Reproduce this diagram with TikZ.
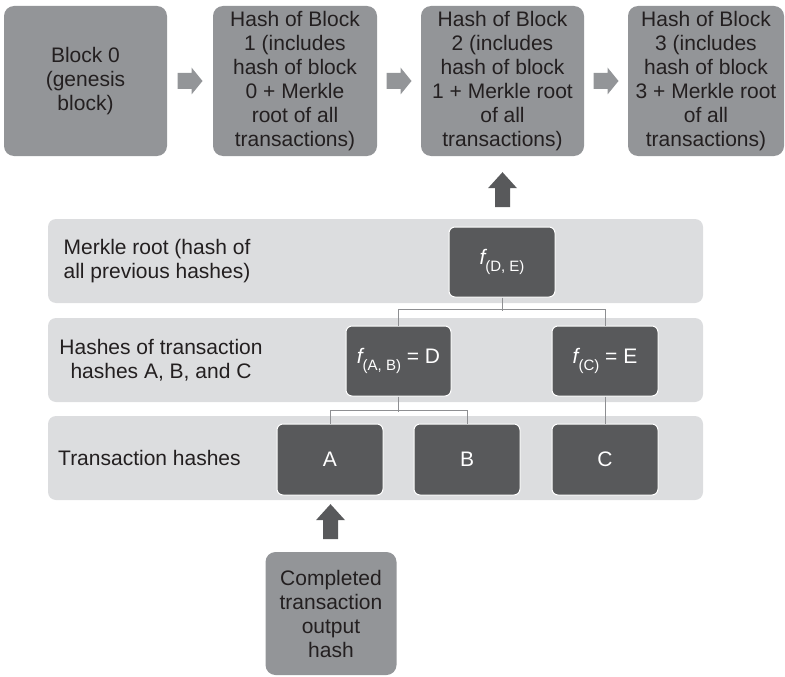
\documentclass[tikz,border=0pt]{standalone}
\usepackage{fontspec}
\setmainfont{Liberation Sans}
\usetikzlibrary{calc}
\definecolor{midgray}{HTML}{939598}
\definecolor{darkgray}{HTML}{58595B}
\definecolor{bandgray}{HTML}{DCDDDF}
\definecolor{txt}{HTML}{231F20}
\definecolor{linegray}{HTML}{8E8F92}
\newcommand{\subtxt}[1]{\raisebox{-7.5pt}{\fontsize{15}{15}\selectfont #1}}
\begin{document}
\begin{tikzpicture}[x=1pt,y=-1pt,
  mainfont/.style={font=\fontsize{21}{24}\selectfont},
  topblock/.style={mainfont, fill=midgray, rounded corners=10pt, minimum height=150pt, align=center, text=txt, inner sep=0pt},
  band/.style={fill=bandgray, rounded corners=8pt, minimum width=655pt, minimum height=84pt, inner sep=0pt},
  darkbox/.style={mainfont, fill=darkgray, draw=white, line width=1pt, rounded corners=6pt, minimum width=105pt, minimum height=70pt, text=white, inner sep=0pt},
  rowlabel/.style={mainfont, align=center, text=txt, inner sep=0pt},
  conn/.style={draw=linegray, line width=0.9pt},
  rarr/.pic={\fill[midgray] (-12.5,-8) -- (1.5,-8) -- (1.5,-13.5) -- (12.5,0) -- (1.5,13.5) -- (1.5,8) -- (-12.5,8) -- cycle;},
  uarr/.pic={\fill[darkgray] (-7.5,17.5) -- (-7.5,-1.5) -- (-14.5,-1.5) -- (0,-17.5) -- (14.5,-1.5) -- (7.5,-1.5) -- (7.5,17.5) -- cycle;}
]
\useasboundingbox (0,0) rectangle (785,677);

% top blocks
\node[topblock, minimum width=163pt] (b0) at (85.5,81) {Block 0\\(genesis\\block)};
\node[topblock, minimum width=164pt] (b1) at (295,81) {Hash of Block\\1 (includes\\hash of block\\0 + Merkle\\root of all\\transactions)};
\node[topblock, minimum width=163pt] (b2) at (502.5,81) {Hash of Block\\2 (includes\\hash of block\\1 + Merkle root\\of all\\transactions)};
\node[topblock, minimum width=156pt] (b3) at (706,81) {Hash of Block\\3 (includes\\hash of block\\3 + Merkle root\\of all\\transactions)};

\path ($(b0.east)!0.5!(b1.west)$) pic {rarr};
\path ($(b1.east)!0.5!(b2.west)$) pic {rarr};
\path ($(b2.east)!0.5!(b3.west)$) pic {rarr};

% bands
\node[band] (rootband) at (375.5,261) {};
\node[band] (hashband) at (375.5,360) {};
\node[band] (txband) at (375.5,458) {};

\node[rowlabel] (rootlbl) at (157,261) {Merkle root (hash of\\all previous hashes)};
\node[rowlabel] (hashlbl) at (161,360) {Hashes of transaction\\hashes A, B, and C};
\node[rowlabel, anchor=west] (txlbl) at (58,458) {Transaction hashes};

% dark boxes
\node[darkbox, minimum width=106pt] (DE) at (502,262) {{\itshape f}\subtxt{(D, E)}};
\node[darkbox] (D) at (398.5,361) {{\itshape f}\subtxt{(A, B)} = D};
\node[darkbox, minimum width=106pt] (E) at (605,361) {{\itshape f}\subtxt{(C)} = E};
\node[darkbox, minimum width=106pt, minimum height=71pt] (A) at (330,459.5) {A};
\node[darkbox, minimum width=106pt, minimum height=71pt] (B) at (467,459.5) {B};
\node[darkbox, minimum width=106pt, minimum height=71pt] (C) at (605,459.5) {C};

\node[topblock, minimum width=131pt, minimum height=123pt] (comp) at (331,613.5) {Completed\\transaction\\output\\hash};

% connectors
\draw[conn] (DE.south) -- ++(0,13);
\draw[conn] (D.north) -- ++(0,-16) -| (E.north);
\draw[conn] (D.south) -- ++(0,15);
\draw[conn] (A.north) -- ++(0,-13) -| (B.north);
\draw[conn] (E.south) -- (C.north);

% up arrows
\path ($(b2.south)+(0,33.5)$) pic {uarr};
\path ($(A.south)!0.5!(comp.north)+(0,-2)$) pic {uarr};
\end{tikzpicture}
\end{document}
